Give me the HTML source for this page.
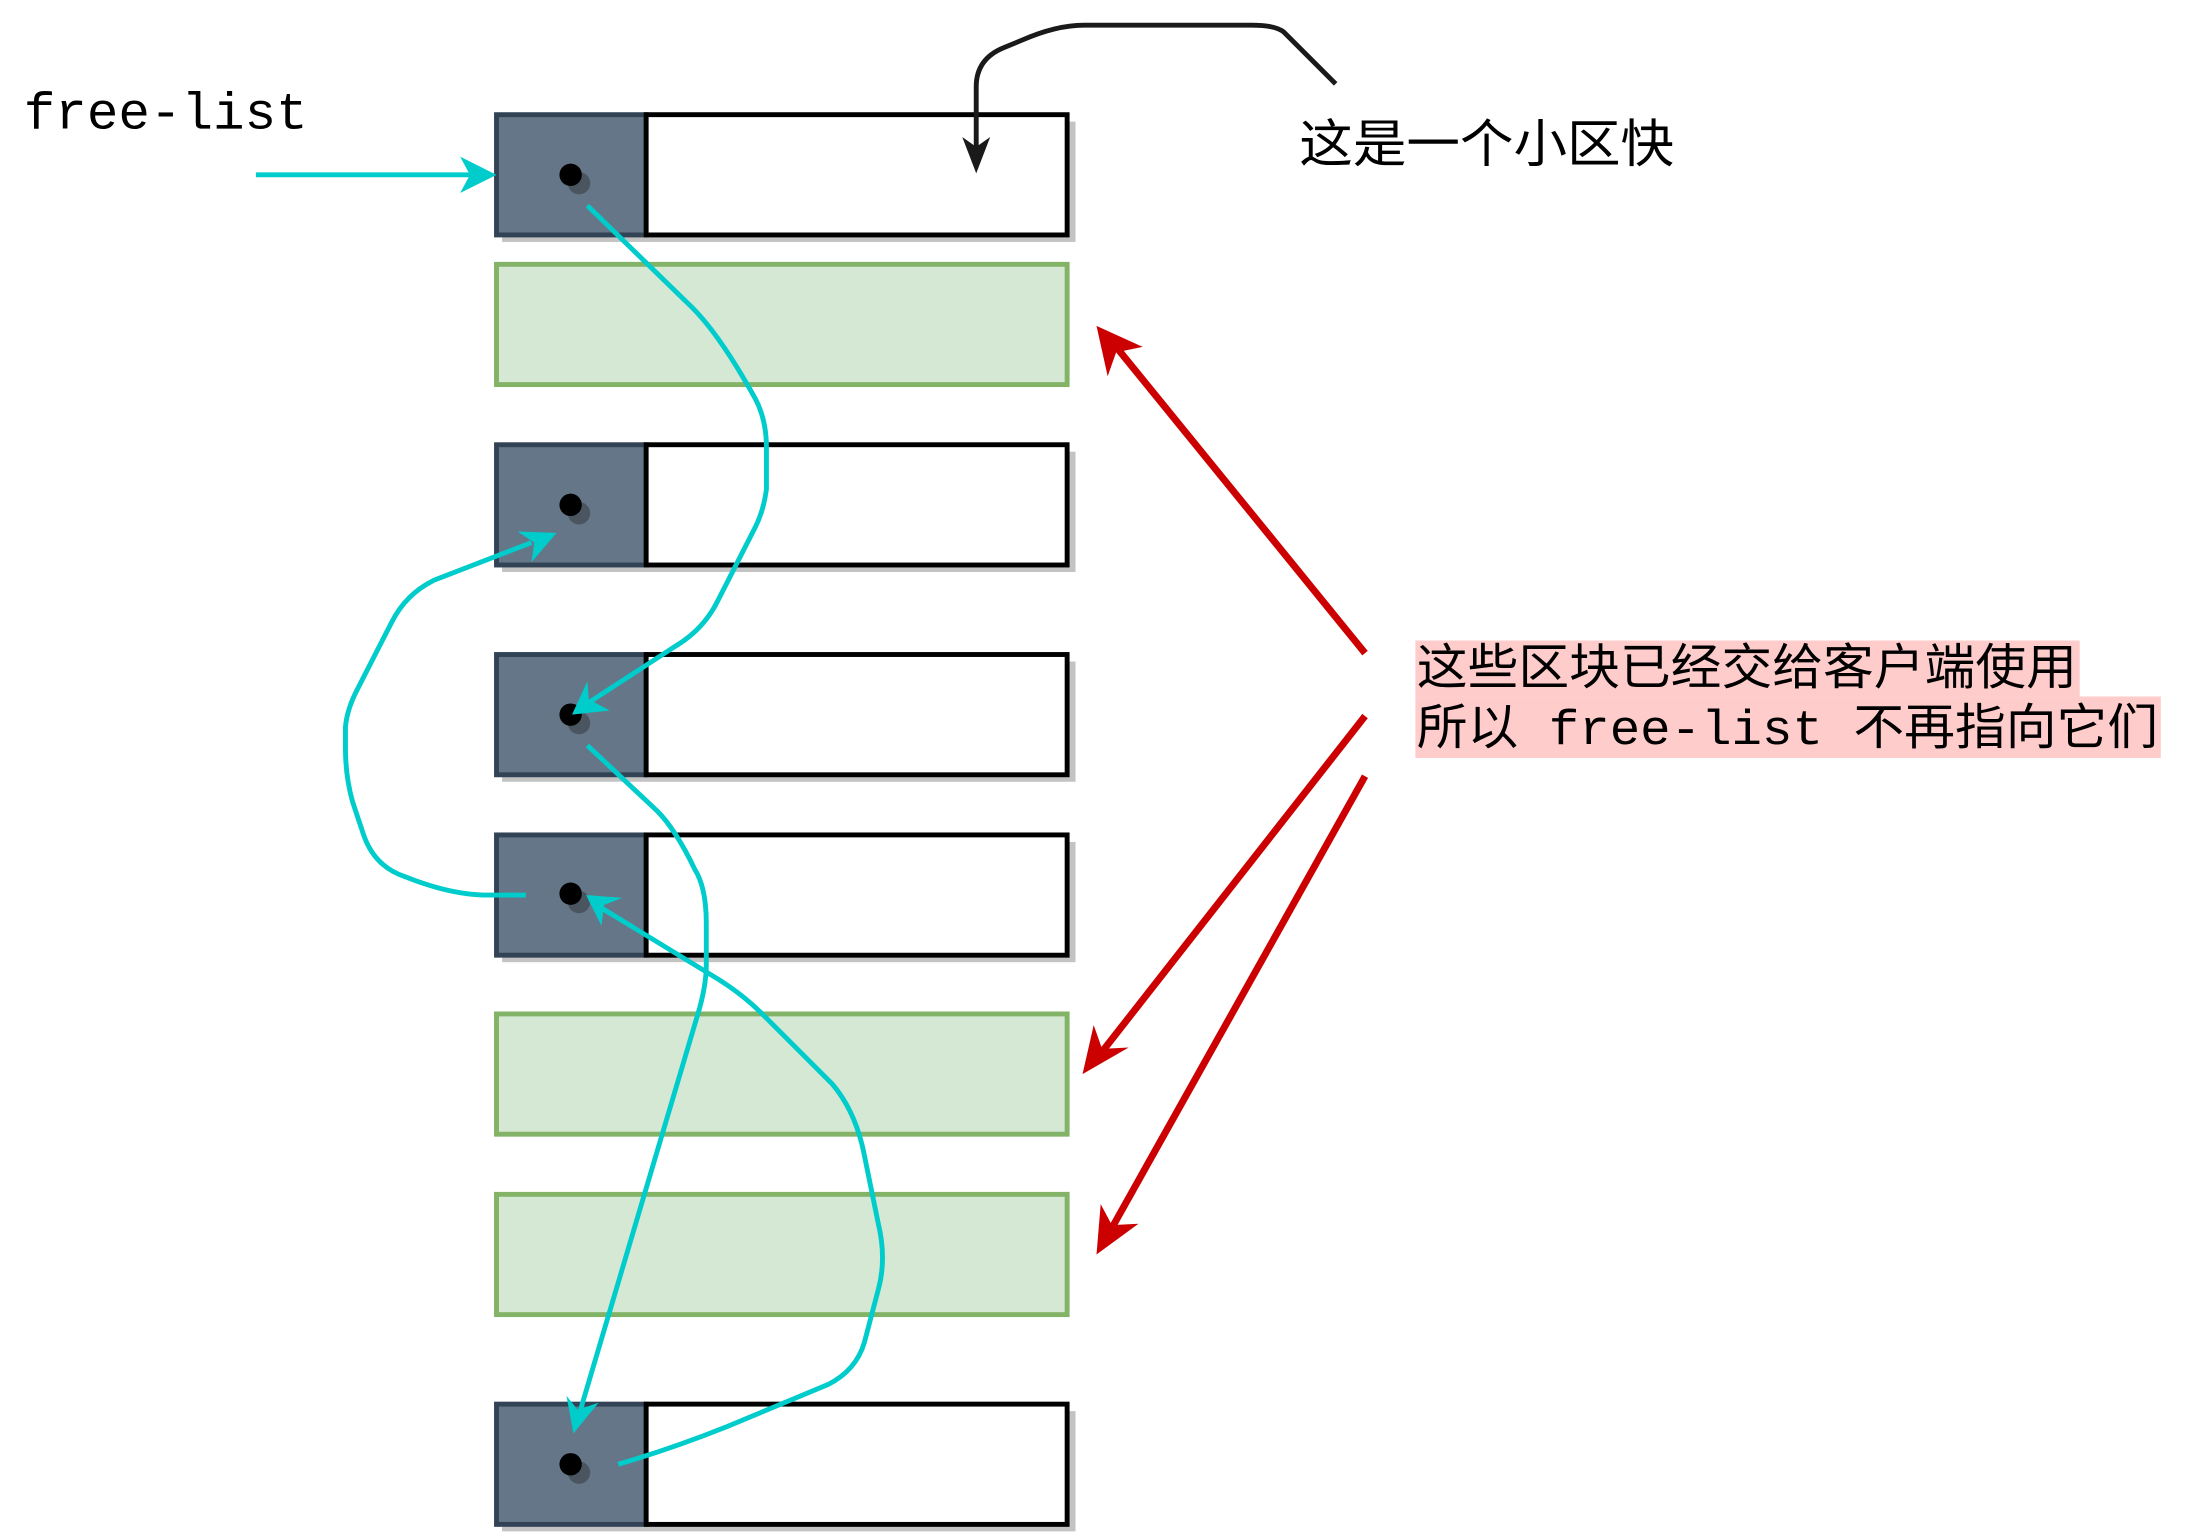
<!DOCTYPE html>
<html><head><meta charset="utf-8"><style>html,body{margin:0;padding:0;background:#fff}svg{display:block}</style></head>
<body>
<svg width="2193" height="1536" viewBox="0 0 1568 1098.3" preserveAspectRatio="none" xmlns="http://www.w3.org/2000/svg">
<g>
<g><rect x="359" y="87" width="410" height="86" fill="#c3c3c3"/><rect x="355" y="82" width="107" height="86" fill="#647687" stroke="#314354" stroke-width="3.5"/><rect x="462" y="82" width="301" height="86" fill="#fff" stroke="#000" stroke-width="3.5"/><circle cx="414" cy="131" r="8" fill="#4b5560"/><circle cx="408" cy="125" r="8" fill="#000"/></g>
<g><rect x="355" y="189" width="408" height="86" fill="#d5e8d4" stroke="#82b366" stroke-width="3.5"/></g>
<g><rect x="359" y="323" width="410" height="86" fill="#c3c3c3"/><rect x="355" y="318" width="107" height="86" fill="#647687" stroke="#314354" stroke-width="3.5"/><rect x="462" y="318" width="301" height="86" fill="#fff" stroke="#000" stroke-width="3.5"/><circle cx="414" cy="367" r="8" fill="#4b5560"/><circle cx="408" cy="361" r="8" fill="#000"/></g>
<g><rect x="359" y="473" width="410" height="86" fill="#c3c3c3"/><rect x="355" y="468" width="107" height="86" fill="#647687" stroke="#314354" stroke-width="3.5"/><rect x="462" y="468" width="301" height="86" fill="#fff" stroke="#000" stroke-width="3.5"/><circle cx="414" cy="517" r="8" fill="#4b5560"/><circle cx="408" cy="511" r="8" fill="#000"/></g>
<g><rect x="359" y="602" width="410" height="86" fill="#c3c3c3"/><rect x="355" y="597" width="107" height="86" fill="#647687" stroke="#314354" stroke-width="3.5"/><rect x="462" y="597" width="301" height="86" fill="#fff" stroke="#000" stroke-width="3.5"/><circle cx="414" cy="645" r="8" fill="#4b5560"/><circle cx="408" cy="639" r="8" fill="#000"/></g>
<g><rect x="355" y="725" width="408" height="86" fill="#d5e8d4" stroke="#82b366" stroke-width="3.5"/></g>
<g><rect x="355" y="854" width="408" height="86" fill="#d5e8d4" stroke="#82b366" stroke-width="3.5"/></g>
<g><rect x="359" y="1009" width="410" height="86" fill="#c3c3c3"/><rect x="355" y="1004" width="107" height="86" fill="#647687" stroke="#314354" stroke-width="3.5"/><rect x="462" y="1004" width="301" height="86" fill="#fff" stroke="#000" stroke-width="3.5"/><circle cx="414" cy="1053" r="8" fill="#4b5560"/><circle cx="408" cy="1047" r="8" fill="#000"/></g>
</g>
<g fill="none" stroke="#00cccc" stroke-width="3.5">
<path d="M183 125 L345 125"/>
<path d="M420 147 L495 220 Q515 240 540 285 Q548 300 548 320 L548 350 Q546 365 540 377 L513 430 Q503 450 483 462 L420 503"/>
<path d="M420 533 L470 580 Q483 593 497 622 Q505 635 505 660 L505 690 Q505 705 499 725 L413 1015"/>
<path d="M442 1047 Q480 1036 520 1020 L592 990 Q612 980 618 960 L628 922 Q634 900 628 875 L618 826 Q612 795 595 775 L545 725 Q530 710 510 698 L428 648"/>
<path d="M376 640 L345 640 Q320 639 290 627 Q268 620 260 597 L252 573 Q247 555 247 535 L247 520 Q248 507 256 492 L280 445 Q290 425 310 415 L380 388"/>
</g>
<g fill="#00cccc">
<path d="M355 125 L329 112 L336 125 L329 138 Z"/>
<path d="M409 511 L420 487 L421 500 L436 508 Z"/>
<path d="M410 1025 L405 998 L413 1008 L428 1003 Z"/>
<path d="M419 640 L445 642 L432 647 L430 662 Z"/>
<path d="M398 381 L370 380 L382 388 L380 402 Z"/>
</g>
<g>
<path d="M955 60 L918 23 Q912 18 895 18 L775 18 Q755 18 730 29 L718 34 Q698 42 698 62 L698 108" fill="none" stroke="#1a1a1a" stroke-width="3.5"/>
<path d="M698 124 L688 98 L698 105 L708 98 Z" fill="#1a1a1a"/>
</g>
<g stroke="#cc0000" stroke-width="5" fill="#cc0000">
<path d="M976 467 L798 248" fill="none"/><path d="M784 233 L817 248 L798 252 L792 269 Z" stroke="none"/>
<path d="M976 512 L788 752" fill="none"/><path d="M774 768 L782 733 L788 750 L807 749 Z" stroke="none"/>
<path d="M976 555 L795 878" fill="none"/><path d="M784 897 L787 861 L795 876 L814 875 Z" stroke="none"/>
</g>
<text x="17" y="92" font-family="Liberation Mono, monospace" font-size="37" textLength="203" lengthAdjust="spacingAndGlyphs" fill="#000">free-list</text>
<text x="929" y="116" font-family="Liberation Sans, Noto Sans CJK SC, sans-serif" font-size="37" textLength="268" lengthAdjust="spacingAndGlyphs" fill="#000">这是一个小区快</text>
<g>
<rect x="1012" y="458" width="475" height="40" fill="#ffcccc"/>
<rect x="1012" y="498" width="533" height="44" fill="#ffcccc"/>
<text x="1013" y="489" font-family="Liberation Sans, Noto Sans CJK SC, sans-serif" font-size="35" textLength="472" lengthAdjust="spacingAndGlyphs" fill="#000">这些区块已经交给客户端使用</text>
<text x="1013" y="532" font-family="Liberation Mono, Noto Sans CJK SC, monospace" font-size="35" textLength="530" lengthAdjust="spacingAndGlyphs" fill="#000">所以 free-list 不再指向它们</text>
</g>
</svg>
</body></html>
